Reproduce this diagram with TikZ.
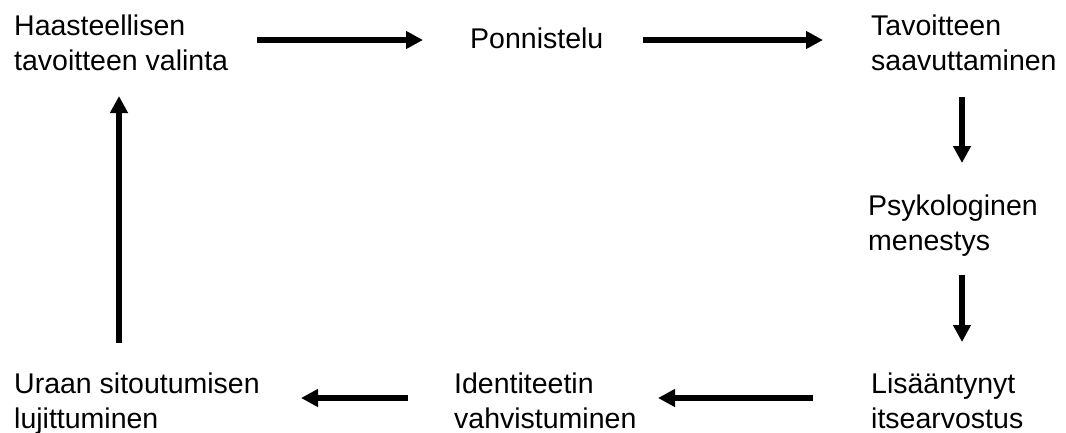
\documentclass[tikz,border=0pt]{standalone}
\usepackage{fontspec}
\setmainfont{Liberation Sans}
\usetikzlibrary{arrows.meta}
\begin{document}
\begin{tikzpicture}[x=1pt,y=-1pt,
  lbl/.style={inner sep=0pt, anchor=base west, align=left,
    font=\fontsize{28.5}{35}\selectfont},
  arr/.style={line width=6pt, -{Triangle[length=17pt,width=17pt]}}]
\useasboundingbox[fill=white] (0,0) rectangle (1066,432);
% text nodes (base anchor = baseline of last line)
\node[lbl] (goal) at (14,70) {Haasteellisen\\tavoitteen valinta};
\node[lbl] (effort) at (470,48) {Ponnistelu};
\node[lbl] (attain) at (871,70) {Tavoitteen\\saavuttaminen};
\node[lbl] (psych) at (868,250) {Psykologinen\\menestys};
\node[lbl] (esteem) at (871,428) {Lisääntynyt\\itsearvostus};
\node[lbl] (ident) at (454,428) {Identiteetin\\vahvistuminen};
\node[lbl] (commit) at (14,428) {Uraan sitoutumisen\\lujittuminen};
% connector end points
\coordinate (a1s) at (257,40); \coordinate (a1e) at (423,40);
\coordinate (a2s) at (643,40); \coordinate (a2e) at (823,40);
\coordinate (a3s) at (962,97); \coordinate (a3e) at (962,163);
\coordinate (a4s) at (962,275); \coordinate (a4e) at (962,342);
\coordinate (a5s) at (813,398); \coordinate (a5e) at (658,398);
\coordinate (a6s) at (408,398); \coordinate (a6e) at (301,398);
\coordinate (a7s) at (119,343); \coordinate (a7e) at (119,96);
% connectors
\draw[arr] (a1s) -- (a1e);
\draw[arr] (a2s) -- (a2e);
\draw[arr] (a3s) -- (a3e);
\draw[arr] (a4s) -- (a4e);
\draw[arr] (a5s) -- (a5e);
\draw[arr] (a6s) -- (a6e);
\draw[arr] (a7s) -- (a7e);
\end{tikzpicture}
\end{document}
